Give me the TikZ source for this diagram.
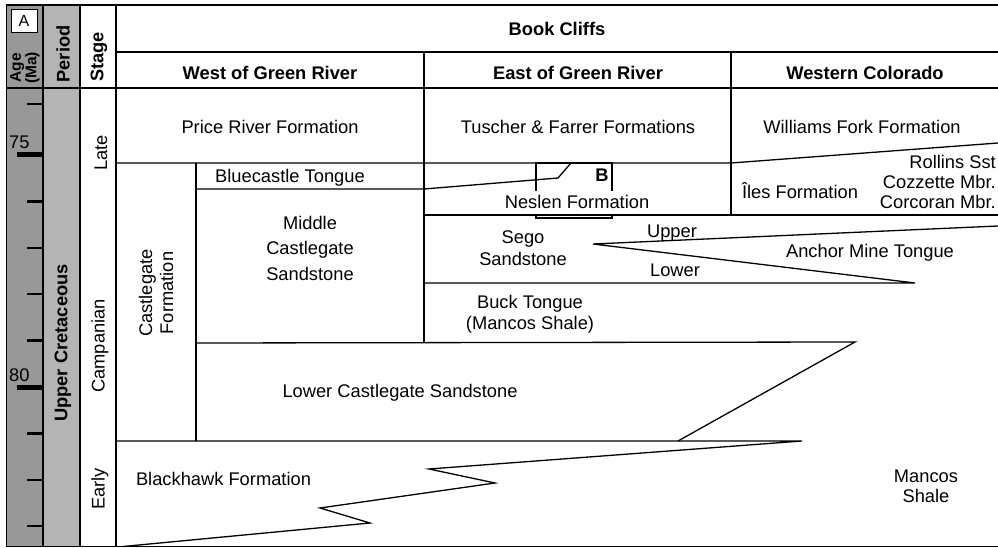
\documentclass[tikz,border=0pt]{standalone}
\usepackage{fontspec}
\setmainfont{Liberation Sans}
\definecolor{agegray}{RGB}{152,152,152}
\definecolor{periodgray}{RGB}{180,180,180}

\begin{document}
\begin{tikzpicture}[x=1pt,y=-1pt,
    lbl/.style={inner sep=0pt,align=center,font=\fontsize{18.3}{22}\selectfont},
    hdr/.style={lbl,font=\bfseries\fontsize{18.3}{22}\selectfont},
    vlbl/.style={lbl,rotate=90},
    contact/.style={line width=1.3pt}]
  \useasboundingbox (0,0) rectangle (998,548);
  \clip (0,0) rectangle (998,548);
  % time scale columns
  \fill[agegray] (6.5,5) rectangle (43,546.5);
  \fill[periodgray] (43,5) rectangle (80,546.5);
  \draw[line width=2.4pt] (27,104) -- (43,104);
  \foreach \t in {1,2,3,4,6,7,8}{\draw[line width=2.4pt] (27,{155+46.4*\t}) -- (43,{155+46.4*\t});}
  \foreach \t/\ma in {0/75,5/80}{
    \draw[line width=5pt] (17,{155+46.4*\t}) -- (43,{155+46.4*\t});
    \node[lbl,anchor=base west] (ma\ma) at (9,{149+46.4*\t}) {\ma};}
  % frame and column rules
  \draw[contact] (998,5) -- (6.5,5) -- (6.5,546.5) -- (998,546.5);
  \draw[contact] (43,5) -- (43,546.5) (80,5) -- (80,546.5) (116,5) -- (116,546.5);
  \draw[contact] (116,52) -- (998,52);
  \draw[line width=2.2pt] (6.5,88) -- (998,88);
  \draw[contact] (424,52) -- (424,343) (731,52) -- (731,215);
  % formation contacts
  \draw[contact] (116,163) -- (731,163) -- (998,143);
  \draw[contact] (196,163) -- (196,441);
  \draw[contact] (196,189) -- (424,189) -- (558,178) -- (571,163);
  \draw[contact] (424,215) -- (998,215);
  \draw[contact] (998,226) -- (593,244) -- (915,283) -- (424,283);
  \draw[contact] (196,343) -- (855,342) -- (678,441);
  \draw[contact] (116,441) -- (802,441) -- (429,469) -- (495,483) -- (320,508) -- (370,523) -- (123,546.5);
  % box B
  \draw[line width=2.8pt] (536,191) -- (536,163) -- (612,163) -- (612,191)
    (536,214) -- (536,218) -- (612,218) -- (612,214);
  \node[draw,fill=white,line width=0.8pt,minimum width=26pt,minimum height=23pt,inner sep=0pt,
    font=\fontsize{16}{18}\selectfont] (panelA) at (24,20.5) {A};
  % headings
  \node[vlbl,font=\bfseries\fontsize{15.5}{14}\selectfont] (age) at (25,68) {Age\\(Ma)};
  \node[vlbl,font=\bfseries\fontsize{18.3}{22}\selectfont] (period) at (63,54) {Period};
  \node[vlbl,font=\bfseries\fontsize{18.3}{22}\selectfont] (stage) at (99,57) {Stage};
  \node[hdr] (bookcliffs) at (557,28.5) {Book Cliffs};
  \node[hdr,anchor=base] (west) at (270,80) {West of Green River};
  \node[hdr,anchor=base] (east) at (578,80) {East of Green River};
  \node[hdr,anchor=base] (colorado) at (865,80) {Western Colorado};
  % time labels
  \node[vlbl,font=\bfseries\fontsize{18.3}{22}\selectfont] (cretaceous) at (63,343) {Upper Cretaceous};
  \node[vlbl] (late) at (101,153) {Late};
  \node[vlbl] (campanian) at (100,346) {Campanian};
  \node[vlbl] (early) at (100,489) {Early};
  % units
  \node[lbl,anchor=base] (priceriver) at (270,134) {Price River Formation};
  \node[lbl,anchor=base] (tuscher) at (578,134) {Tuscher \& Farrer Formations};
  \node[lbl,anchor=base] (williamsfork) at (862,134) {Williams Fork Formation};
  \node[lbl,anchor=base] (bluecastle) at (290,183) {Bluecastle Tongue};
  \node[hdr,anchor=base] (boxB) at (602,182) {B};
  \node[lbl,anchor=base] (neslen) at (577,208) {Neslen Formation};
  \node[lbl,anchor=base] (iles) at (800,198) {Îles Formation};
  \node[lbl,align=right,anchor=east,font=\fontsize{18.3}{20}\selectfont] (rollins) at (996,182)
    {Rollins Sst\\Cozzette Mbr.\\Corcoran Mbr.};
  \node[vlbl,font=\fontsize{18.3}{21}\selectfont] (castlegate) at (156,293) {Castlegate\\Formation};
  \node[lbl,font=\fontsize{18.3}{25.5}\selectfont] (midcastlegate) at (310,248) {Middle\\Castlegate\\Sandstone};
  \node[lbl] (sego) at (523,248) {Sego\\Sandstone};
  \node[lbl,anchor=base] (upper) at (672,237) {Upper};
  \node[lbl,anchor=base] (lower) at (675,276) {Lower};
  \node[lbl,anchor=base] (anchormine) at (870,257) {Anchor Mine Tongue};
  \node[lbl,font=\fontsize{18.3}{21}\selectfont] (buck) at (530,314) {Buck Tongue\\(Mancos Shale)};
  \node[lbl,anchor=base] (lowcastlegate) at (400,397) {Lower Castlegate Sandstone};
  \node[lbl,anchor=base] (blackhawk) at (223.5,485) {Blackhawk Formation};
  \node[lbl,font=\fontsize{18.3}{20}\selectfont] (mancos) at (926,486.5) {Mancos\\Shale};
\end{tikzpicture}
\end{document}
